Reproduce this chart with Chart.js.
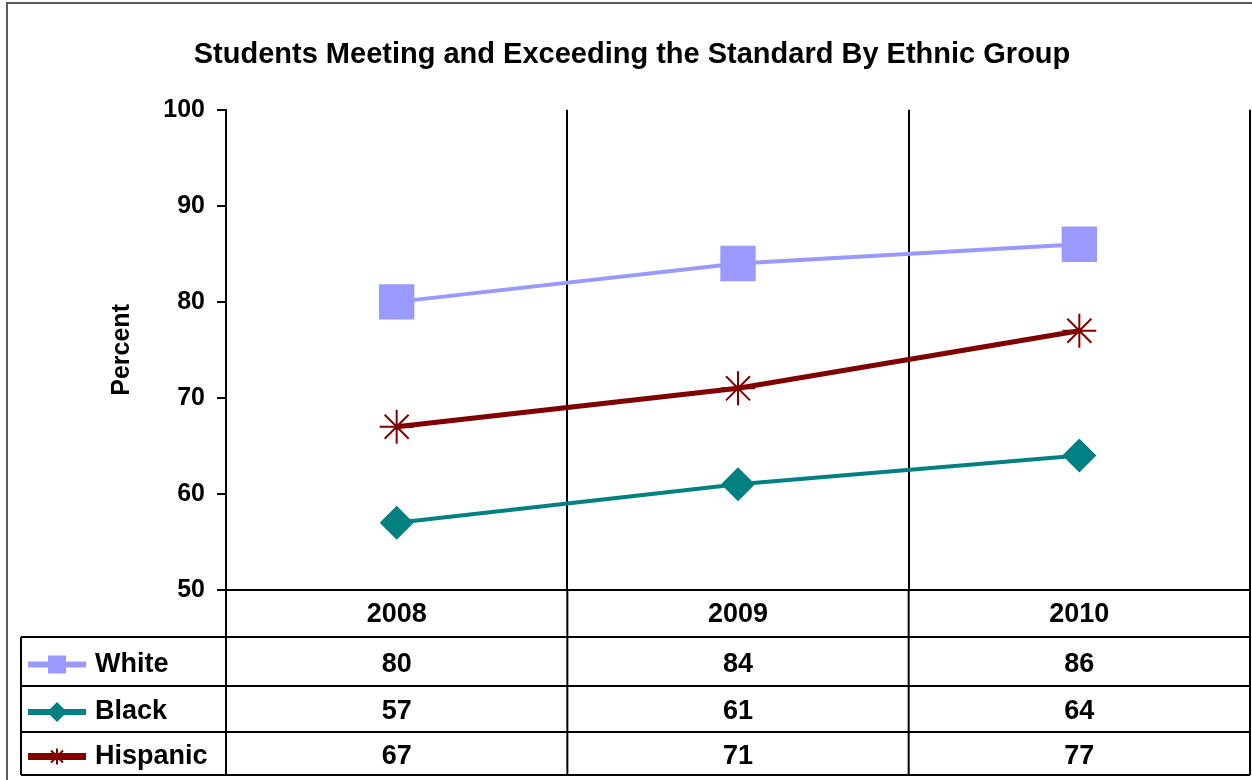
<!DOCTYPE html>
<html>
<head>
<meta charset="utf-8">
<script src="https://cdn.jsdelivr.net/npm/chart.js@4.4.0/dist/chart.umd.min.js"></script>
<style>
  html, body { margin: 0; padding: 0; background: #fff; overflow: hidden; }
  #wrap { width: 1252px; height: 780px; position: relative; }
</style>
</head>
<body>
<div id="wrap"><canvas id="chart" width="1252" height="780"></canvas></div>
<script>
var years = ["2008", "2009", "2010"];
var seriesNames = ["White", "Black", "Hispanic"];
var whiteValues = [80, 84, 86];
var blackValues = [57, 61, 64];
var hispanicValues = [67, 71, 77];
var yTicks = [50, 60, 70, 80, 90, 100];

var fontFamily = "Arial, 'Liberation Sans', sans-serif";
var colors = ["#9999FF", "#008080", "#800000"];
var lineWidths = [4, 4, 5];
var markers = ["rect", "rectRot", "star"];
var allValues = [whiteValues, blackValues, hispanicValues];
var rowLines = [637, 686, 732, 775]; // table row borders (layout)

// draws the grey outer frame and the data table under the plot
var tablePlugin = {
    id: "dataTable",
    afterDraw: function (chart) {
        var ctx = chart.ctx;
        var ca = chart.chartArea;
        var xs = chart.scales.x;
        var tableLeft = 21;
        var tableBottom = rowLines[rowLines.length - 1];

        ctx.save();
        // outer frame
        ctx.strokeStyle = "#5a5a5a";
        ctx.lineWidth = 2;
        ctx.beginPath();
        ctx.moveTo(7, 790);
        ctx.lineTo(7, 3);
        ctx.lineTo(1260, 3);
        ctx.stroke();

        ctx.strokeStyle = "#000";
        ctx.lineWidth = 2;
        // vertical lines through the table
        var bounds = [ca.left];
        for (var i = 0; i < years.length - 1; i++) {
            bounds.push((xs.getPixelForValue(i) + xs.getPixelForValue(i + 1)) / 2);
        }
        bounds.push(ca.right);
        ctx.beginPath();
        bounds.forEach(function (bx) {
            ctx.moveTo(bx, ca.bottom);
            ctx.lineTo(bx, tableBottom);
        });
        ctx.moveTo(tableLeft, rowLines[0]);
        ctx.lineTo(tableLeft, tableBottom);
        rowLines.forEach(function (ry) {
            ctx.moveTo(tableLeft, ry);
            ctx.lineTo(ca.right, ry);
        });
        ctx.stroke();

        // rows
        ctx.font = "bold 27px " + fontFamily;
        ctx.textBaseline = "middle";
        for (var s = 0; s < allValues.length; s++) {
            var cy = (rowLines[s] + rowLines[s + 1]) / 2 + 3;
            // legend key
            ctx.strokeStyle = colors[s];
            ctx.lineWidth = lineWidths[s] + 2;
            ctx.beginPath();
            ctx.moveTo(28, cy);
            ctx.lineTo(86, cy);
            ctx.stroke();
            var mx = 57;
            ctx.fillStyle = colors[s];
            if (markers[s] === "rect") {
                ctx.fillRect(mx - 9, cy - 9, 18, 18);
            } else if (markers[s] === "rectRot") {
                ctx.beginPath();
                ctx.moveTo(mx - 10, cy);
                ctx.lineTo(mx, cy - 10);
                ctx.lineTo(mx + 10, cy);
                ctx.lineTo(mx, cy + 10);
                ctx.closePath();
                ctx.fill();
            } else {
                ctx.lineWidth = 2;
                ctx.beginPath();
                ctx.moveTo(mx, cy - 8); ctx.lineTo(mx, cy + 8);
                ctx.moveTo(mx - 6, cy - 6); ctx.lineTo(mx + 6, cy + 6);
                ctx.moveTo(mx - 6, cy + 6); ctx.lineTo(mx + 6, cy - 6);
                ctx.stroke();
            }
            ctx.fillStyle = "#000";
            ctx.textAlign = "left";
            ctx.fillText(seriesNames[s], 95, cy);
            ctx.textAlign = "center";
            for (var k = 0; k < years.length; k++) {
                ctx.fillText(String(allValues[s][k]), xs.getPixelForValue(k), cy);
            }
        }
        ctx.restore();
    }
};

function makeSet(idx) {
    return {
        label: seriesNames[idx],
        data: allValues[idx],
        borderColor: colors[idx],
        backgroundColor: colors[idx],
        borderWidth: lineWidths[idx],
        pointStyle: markers[idx],
        pointRadius: [25, 17, 17][idx],
        pointBorderWidth: markers[idx] === "star" ? 2 : 0,
        pointBorderColor: colors[idx],
        pointBackgroundColor: colors[idx],
        tension: 0,
        clip: false
    };
}

new Chart(document.getElementById("chart"), {
    type: "line",
    data: {
        labels: years,
        datasets: [makeSet(0), makeSet(1), makeSet(2)]
    },
    options: {
        responsive: false,
        animation: false,
        layout: { autoPadding: false, padding: { left: 14, right: 2, top: 0, bottom: 143 } },
        plugins: {
            legend: { display: false },
            tooltip: { enabled: false },
            title: {
                display: true,
                text: "Students Meeting and Exceeding the Standard By Ethnic Group",
                color: "#000",
                font: { family: fontFamily, size: 29, weight: "bold" },
                padding: { top: 38, bottom: 37 }
            }
        },
        scales: {
            x: {
                type: "category",
                offset: true,
                grid: { offset: true, color: "#000", lineWidth: 2, drawTicks: false },
                border: { display: true, color: "#000", width: 2 },
                ticks: {
                    color: "#000",
                    font: { family: fontFamily, size: 27, weight: "bold" },
                    padding: 8,
                    maxRotation: 0
                },
                afterFit: function (scale) {
                    scale.height = 47;
                    scale.paddingLeft = 0;
                    scale.paddingRight = 0;
                }
            },
            y: {
                min: 50,
                max: 100,
                afterBuildTicks: function (scale) {
                    scale.ticks = yTicks.map(function (v) { return { value: v }; });
                },
                grid: { drawOnChartArea: false, drawTicks: true, tickLength: 9, color: "#000", lineWidth: 2 },
                border: { display: true, color: "#000", width: 2 },
                ticks: {
                    color: "#000",
                    font: { family: fontFamily, size: 25, weight: "bold" },
                    padding: 12
                },
                title: {
                    display: true,
                    text: "Percent",
                    color: "#000",
                    font: { family: fontFamily, size: 25, weight: "bold" },
                    padding: { top: 93, bottom: 0 }
                },
                afterFit: function (scale) { scale.width = 212; }
            }
        }
    },
    plugins: [tablePlugin]
});
</script>
</body>
</html>
